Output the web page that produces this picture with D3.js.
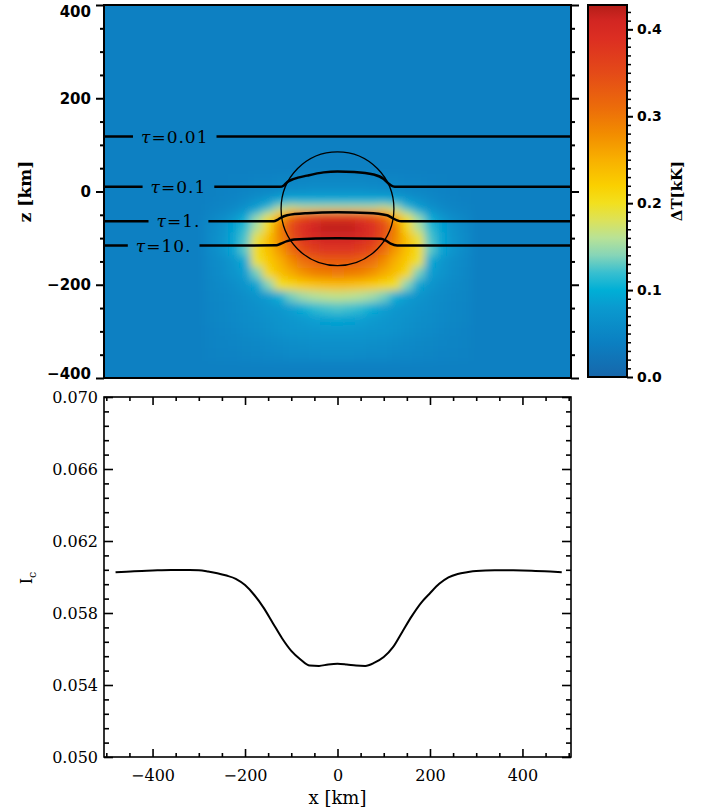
<!DOCTYPE html>
<html lang="en">
<head>
<meta charset="UTF-8">
<script src="https://cdnjs.cloudflare.com/ajax/libs/d3/7.8.5/d3.min.js"></script>
<style>
  body { margin: 0; background: #fff; }
  svg { display: block; }
</style>
</head>
<body>
<div id="chart"></div>
<script>
// ---- values ----

// temperature excess dT [kK] on a coarse grid (columns = gridX, rows = gridZ)
const gridX = [-275,-250,-225,-200,-175,-150,-125,-100,-75,-50,-25,0,25,50,75,100,125,150,175,200,225,250,275];
const gridZ = [25,0,-20,-35,-45,-55,-75,-100,-125,-150,-175,-200,-225,-250,-275,-300,-325,-350];
const dTrows = [
  [.040,.040,.041,.042,.044,.045,.047,.048,.049,.050,.050,.050,.050,.050,.049,.048,.047,.045,.044,.042,.041,.040,.040],
  [.041,.043,.045,.047,.050,.053,.057,.060,.062,.064,.065,.065,.065,.064,.062,.060,.057,.053,.050,.047,.045,.043,.041],
  [.042,.044,.048,.055,.066,.080,.095,.100,.100,.100,.100,.100,.100,.100,.100,.100,.095,.080,.066,.055,.048,.044,.042],
  [.044,.048,.055,.066,.085,.110,.150,.170,.160,.160,.160,.160,.160,.160,.160,.170,.150,.110,.085,.066,.055,.048,.044],
  [.046,.052,.062,.080,.110,.150,.210,.260,.280,.290,.300,.300,.300,.290,.280,.260,.210,.150,.110,.080,.062,.052,.046],
  [.050,.060,.075,.100,.150,.200,.260,.320,.360,.380,.390,.390,.390,.380,.360,.320,.260,.200,.150,.100,.075,.060,.050],
  [.056,.068,.088,.115,.155,.210,.290,.350,.390,.410,.420,.420,.420,.410,.390,.350,.290,.210,.155,.115,.088,.068,.056],
  [.057,.070,.090,.125,.190,.235,.285,.340,.380,.400,.410,.410,.410,.400,.380,.340,.285,.235,.190,.125,.090,.070,.057],
  [.057,.070,.090,.130,.205,.235,.270,.310,.350,.370,.380,.380,.380,.370,.350,.310,.270,.235,.205,.130,.090,.070,.057],
  [.054,.062,.075,.095,.195,.225,.250,.280,.305,.320,.330,.330,.330,.320,.305,.280,.250,.225,.195,.095,.075,.062,.054],
  [.052,.060,.070,.085,.135,.210,.235,.255,.275,.290,.295,.300,.295,.290,.275,.255,.235,.210,.135,.085,.070,.060,.052],
  [.050,.055,.062,.072,.090,.140,.200,.212,.225,.232,.238,.240,.238,.232,.225,.212,.200,.140,.090,.072,.062,.055,.050],
  [.049,.052,.057,.063,.070,.082,.100,.135,.150,.158,.163,.165,.163,.158,.150,.135,.100,.082,.070,.063,.057,.052,.049],
  [.048,.051,.055,.060,.065,.070,.076,.085,.098,.115,.122,.125,.122,.115,.098,.085,.076,.070,.065,.060,.055,.051,.048],
  [.047,.050,.054,.058,.062,.066,.070,.075,.080,.085,.088,.090,.088,.085,.080,.075,.070,.066,.062,.058,.054,.050,.047],
  [.045,.048,.051,.055,.059,.063,.067,.070,.072,.074,.075,.075,.075,.074,.072,.070,.067,.063,.059,.055,.051,.048,.045],
  [.044,.046,.048,.050,.053,.056,.059,.061,.063,.064,.065,.065,.065,.064,.063,.061,.059,.056,.053,.050,.048,.046,.044],
  [.043,.044,.045,.047,.049,.051,.053,.055,.056,.057,.058,.058,.058,.057,.056,.055,.053,.051,.049,.047,.045,.044,.043]
];
const dTbackground = 0.04;

// colour table of the colour bar
const cmapVals = [0.000, 0.040, 0.080, 0.100, 0.120, 0.140, 0.160, 0.180, 0.200, 0.220, 0.250, 0.280, 0.310, 0.350, 0.390, 0.410, 0.428];
const cmapCols = ["#1767ab","#0b80c2","#0a9acf","#00afd6","#38bfd0","#86d5b8","#b8e296","#dce25a","#f2e01e","#fad000","#f8b000","#f28c00","#ec6c0a","#e44a18","#dc2e22","#d22622","#b41e18"];
const cbMax = 0.428;

// optical depth levels [x km, z km]
const tauNames = ["0.01", "0.1", "1.", "10."];
const tau001 = [[-505,118],[505,118]];
const tau01  = [[-505,10],[-125,10],[-116,13],[-109,20],[-94,27],[-66,34],[-30,41],[0,43],[36,42],[78,36.5],[100,27],[111,16.5],[120,11],[128,10],[505,10]];
const tau1   = [[-505,-64],[-138,-64],[-130,-61],[-123,-56.5],[-109,-51],[-66,-46.5],[0,-44.5],[65,-46],[107,-51],[118,-56.5],[129,-62],[138,-64],[505,-64]];
const tau10  = [[-505,-116],[-132,-115.5],[-123,-112],[-109,-106.5],[-94,-103],[0,-100],[94,-101.5],[104,-105],[115,-112],[129,-116],[505,-116]];
const tauLines = [tau001, tau01, tau1, tau10];

// bubble outline
const bubbleCentre = [0, -37];
const bubbleRadius = 122;

// continuum intensity
const icX   = [-480,-440,-400,-360,-320,-300,-280,-260,-240,-220,-200,-180,-160,-140,-120,-100,-80,-60,-40,-20,0,20,40,60,80,100,120,140,160,180,200,220,240,260,280,300,340,380,420,460,485];
const icVal = [0.06026,0.06032,0.06036,0.06039,0.06039,0.06037,0.06030,0.06021,0.06008,0.05990,0.05955,0.05900,0.05830,0.05745,0.05660,0.05590,0.05542,0.05508,0.05506,0.05514,0.05518,0.05514,0.05508,0.05506,0.05524,0.05555,0.05610,0.05695,0.05780,0.05854,0.05910,0.05962,0.05998,0.06017,0.06027,0.06034,0.06037,0.06037,0.06035,0.06030,0.06026];

// ticks
const zTicks  = [-400, -200, 0, 200, 400];
const cbTicks = [0.0, 0.1, 0.2, 0.3, 0.4];
const icTicks = [0.050, 0.054, 0.058, 0.062, 0.066, 0.070];
const xTicks  = [-400, -200, 0, 200, 400];

// ---- layout ----
const W = 712, H = 810;
const P1 = {l: 104, r: 571, t: 5, b: 378};
const P2 = {l: 104, r: 571, t: 397, b: 757};
const CB = {l: 588, r: 627, t: 5, b: 377};
const SANS = "'DejaVu Sans', sans-serif";
const SERIF = "'DejaVu Serif', serif";

const svg = d3.select("#chart").append("svg").attr("width", W).attr("height", H);
const defs = svg.append("defs");

const x1 = d3.scaleLinear().domain([-505, 505]).range([P1.l, P1.r]);
const z1 = d3.scaleLinear().domain([-400, 400]).range([P1.b, P1.t]);
const x2 = d3.scaleLinear().domain([-505, 505]).range([P2.l, P2.r]);
const y2 = d3.scaleLinear().domain([0.050, 0.070]).range([P2.b, P2.t]);
const cbS = d3.scaleLinear().domain([0, cbMax]).range([CB.b, CB.t]);
const color = d3.scaleLinear().domain(cmapVals).range(cmapCols).clamp(true);

// ---- top panel: dT map ----
defs.append("clipPath").attr("id", "clipTop")
  .append("rect").attr("x", P1.l).attr("y", P1.t).attr("width", P1.r - P1.l).attr("height", P1.b - P1.t);
const soft = defs.append("filter").attr("id", "soft").attr("filterUnits", "userSpaceOnUse")
  .attr("x", 60).attr("y", -40).attr("width", 560).attr("height", 460);
soft.append("feGaussianBlur").attr("stdDeviation", 4.5);

const cells = [];
dTrows.forEach((row, i) => {
  const zTop = i === 0 ? gridZ[0] + (gridZ[0] - gridZ[1]) / 2 : (gridZ[i - 1] + gridZ[i]) / 2;
  const zBot = i === gridZ.length - 1 ? gridZ[i] - (gridZ[i - 1] - gridZ[i]) / 2 : (gridZ[i] + gridZ[i + 1]) / 2;
  row.forEach((v, j) => {
    const xl = j === 0 ? gridX[0] - (gridX[1] - gridX[0]) / 2 : (gridX[j - 1] + gridX[j]) / 2;
    const xr = j === row.length - 1 ? gridX[j] + (gridX[j] - gridX[j - 1]) / 2 : (gridX[j] + gridX[j + 1]) / 2;
    cells.push({xl, xr, zTop, zBot, v});
  });
});

const heatClip = svg.append("g").attr("clip-path", "url(#clipTop)");
const heat = heatClip.append("g").attr("filter", "url(#soft)");
heat.append("rect").attr("x", P1.l - 30).attr("y", P1.t - 30)
  .attr("width", P1.r - P1.l + 60).attr("height", P1.b - P1.t + 60)
  .attr("fill", color(dTbackground));
heat.selectAll("rect.cell").data(cells).join("rect").attr("class", "cell")
  .attr("x", d => x1(d.xl)).attr("y", d => z1(d.zTop))
  .attr("width", d => x1(d.xr) - x1(d.xl) + 0.6)
  .attr("height", d => z1(d.zBot) - z1(d.zTop) + 0.6)
  .attr("fill", d => color(d.v));

// tau lines with gaps behind their labels
const tauLabelX = [-352, -344, -344, -376];
const mask = defs.append("mask").attr("id", "tauGap").attr("maskUnits", "userSpaceOnUse")
  .attr("x", 0).attr("y", 0).attr("width", W).attr("height", H);
mask.append("rect").attr("width", W).attr("height", H).attr("fill", "white");

const tauG = heatClip.append("g").attr("mask", "url(#tauGap)");
const tauLine = d3.line().x(d => x1(d[0])).y(d => z1(d[1])).curve(d3.curveMonotoneX);
tauG.selectAll("path").data(tauLines).join("path")
  .attr("d", tauLine).attr("fill", "none").attr("stroke", "#000").attr("stroke-width", 2.5);

const tauLabels = svg.append("g").attr("font-family", SERIF).attr("font-size", 17).attr("letter-spacing", 1);
tauNames.forEach((name, i) => {
  const zOut = tauLines[i][0][1];
  const t = tauLabels.append("text")
    .attr("x", x1(tauLabelX[i])).attr("y", z1(zOut)).attr("dy", "0.36em")
    .attr("text-anchor", "middle");
  t.append("tspan").attr("font-style", "italic").text("τ");
  t.append("tspan").text("=" + name);
  const bb = t.node().getBBox();
  mask.append("rect").attr("x", bb.x - 8).attr("y", bb.y).attr("width", bb.width + 16).attr("height", bb.height)
    .attr("fill", "black");
});

// bubble
heatClip.append("ellipse")
  .attr("cx", x1(bubbleCentre[0])).attr("cy", z1(bubbleCentre[1]))
  .attr("rx", x1(bubbleRadius) - x1(0)).attr("ry", z1(bubbleCentre[1] - bubbleRadius) - z1(bubbleCentre[1]))
  .attr("fill", "none").attr("stroke", "#000").attr("stroke-width", 1.3);

// frame and axes of top panel
svg.append("rect").attr("x", P1.l).attr("y", P1.t).attr("width", P1.r - P1.l).attr("height", P1.b - P1.t)
  .attr("fill", "none").attr("stroke", "#000").attr("stroke-width", 2);

const zMinor = d3.range(-400, 401, 50).filter(v => !zTicks.includes(v));
function styleAxis(g, font, size, weight, sw) {
  g.select(".domain").remove();
  g.selectAll("line").attr("stroke-width", sw);
  g.attr("font-family", font).attr("font-size", size).attr("font-weight", weight);
}
svg.append("g").attr("transform", `translate(${P1.l},0)`)
  .call(d3.axisLeft(z1).tickValues(zTicks).tickSize(8).tickPadding(5).tickFormat(d3.format("d")))
  .call(g => styleAxis(g, SANS, 15, "bold", 2))
  .call(g => g.selectAll("text").attr("dy", d => d === 400 ? "0.78em" : d === -400 ? "0em" : "0.32em"));
svg.append("g").attr("transform", `translate(${P1.l},0)`)
  .call(d3.axisLeft(z1).tickValues(zMinor).tickSize(4).tickFormat(""))
  .call(g => styleAxis(g, SANS, 15, "bold", 2));
svg.append("g").attr("transform", `translate(${P1.r},0)`)
  .call(d3.axisRight(z1).tickValues(zTicks).tickSize(8).tickFormat(""))
  .call(g => styleAxis(g, SANS, 15, "bold", 2));
svg.append("g").attr("transform", `translate(${P1.r},0)`)
  .call(d3.axisRight(z1).tickValues(zMinor).tickSize(4).tickFormat(""))
  .call(g => styleAxis(g, SANS, 15, "bold", 2));

svg.append("text").attr("transform", `translate(25,${(P1.t + P1.b) / 2}) rotate(-90)`)
  .attr("text-anchor", "middle").attr("dy", "0.35em")
  .attr("font-family", SERIF).attr("font-size", 17).attr("font-weight", "bold").text("z [km]");

// ---- colour bar ----
const grad = defs.append("linearGradient").attr("id", "cbGrad")
  .attr("x1", 0).attr("y1", 1).attr("x2", 0).attr("y2", 0);
cmapVals.forEach((v, i) => grad.append("stop").attr("offset", v / cbMax).attr("stop-color", cmapCols[i]));
svg.append("rect").attr("x", CB.l).attr("y", CB.t).attr("width", CB.r - CB.l).attr("height", CB.b - CB.t)
  .attr("fill", "url(#cbGrad)").attr("stroke", "#000").attr("stroke-width", 2);
const cbMinor = d3.range(0, 43).map(i => i / 100).filter(v => !cbTicks.some(t => Math.abs(t - v) < 1e-9));
svg.append("g").attr("transform", `translate(${CB.r},0)`)
  .call(d3.axisRight(cbS).tickValues(cbTicks).tickSize(6).tickPadding(4).tickFormat(d3.format(".1f")))
  .call(g => styleAxis(g, SANS, 14, "bold", 2));
svg.append("g").attr("transform", `translate(${CB.r},0)`)
  .call(d3.axisRight(cbS).tickValues(cbMinor).tickSize(4).tickFormat(""))
  .call(g => styleAxis(g, SANS, 14, "bold", 1.5));
svg.append("text").attr("transform", `translate(677,${(CB.t + CB.b) / 2}) rotate(-90)`)
  .attr("text-anchor", "middle").attr("dy", "0.35em")
  .attr("font-family", SERIF).attr("font-size", 15).attr("font-weight", "bold").text("ΔT[kK]");

// ---- bottom panel: continuum intensity ----
svg.append("rect").attr("x", P2.l).attr("y", P2.t).attr("width", P2.r - P2.l).attr("height", P2.b - P2.t)
  .attr("fill", "none").attr("stroke", "#000").attr("stroke-width", 1.6);

const icMinor = d3.range(0, 26).map(i => 0.050 + i * 0.0008).filter(v => !icTicks.some(t => Math.abs(t - v) < 1e-7));
const xMinor = d3.range(-500, 501, 50).filter(v => !xTicks.includes(v));

svg.append("g").attr("transform", `translate(${P2.l},0)`)
  .call(d3.axisLeft(y2).tickValues(icTicks).tickSizeInner(-9).tickSizeOuter(0).tickPadding(6).tickFormat(d3.format(".3f")))
  .call(g => styleAxis(g, SERIF, 16, "normal", 1.6));
svg.append("g").attr("transform", `translate(${P2.l},0)`)
  .call(d3.axisLeft(y2).tickValues(icMinor).tickSizeInner(-5).tickSizeOuter(0).tickFormat(""))
  .call(g => styleAxis(g, SERIF, 16, "normal", 1.6));
svg.append("g").attr("transform", `translate(${P2.r},0)`)
  .call(d3.axisRight(y2).tickValues(icTicks).tickSizeInner(-9).tickSizeOuter(0).tickFormat(""))
  .call(g => styleAxis(g, SERIF, 16, "normal", 1.6));
svg.append("g").attr("transform", `translate(${P2.r},0)`)
  .call(d3.axisRight(y2).tickValues(icMinor).tickSizeInner(-5).tickSizeOuter(0).tickFormat(""))
  .call(g => styleAxis(g, SERIF, 16, "normal", 1.6));
svg.append("g").attr("transform", `translate(0,${P2.b})`)
  .call(d3.axisBottom(x2).tickValues(xTicks).tickSizeInner(-8).tickSizeOuter(0).tickPadding(13).tickFormat(d3.format("d")))
  .call(g => styleAxis(g, SERIF, 16, "normal", 1.6));
svg.append("g").attr("transform", `translate(0,${P2.b})`)
  .call(d3.axisBottom(x2).tickValues(xMinor).tickSizeInner(-4).tickSizeOuter(0).tickFormat(""))
  .call(g => styleAxis(g, SERIF, 16, "normal", 1.6));
svg.append("g").attr("transform", `translate(0,${P2.t})`)
  .call(d3.axisTop(x2).tickValues(xTicks).tickSizeInner(-8).tickSizeOuter(0).tickFormat(""))
  .call(g => styleAxis(g, SERIF, 16, "normal", 1.6));
svg.append("g").attr("transform", `translate(0,${P2.t})`)
  .call(d3.axisTop(x2).tickValues(xMinor).tickSizeInner(-4).tickSizeOuter(0).tickFormat(""))
  .call(g => styleAxis(g, SERIF, 16, "normal", 1.6));

const icLine = d3.line().x((d, i) => x2(icX[i])).y(d => y2(d)).curve(d3.curveMonotoneX);
svg.append("path").datum(icVal).attr("d", icLine)
  .attr("fill", "none").attr("stroke", "#000").attr("stroke-width", 2);

const ic = svg.append("text").attr("transform", `translate(32,578) rotate(-90)`)
  .attr("text-anchor", "middle").attr("font-family", SERIF).attr("font-size", 16);
ic.append("tspan").text("I");
ic.append("tspan").attr("font-size", 11).attr("dy", 4).text("c");

svg.append("text").attr("x", (P2.l + P2.r) / 2).attr("y", 804)
  .attr("text-anchor", "middle").attr("font-family", SERIF).attr("font-size", 18).text("x [km]");
</script>
</body>
</html>
